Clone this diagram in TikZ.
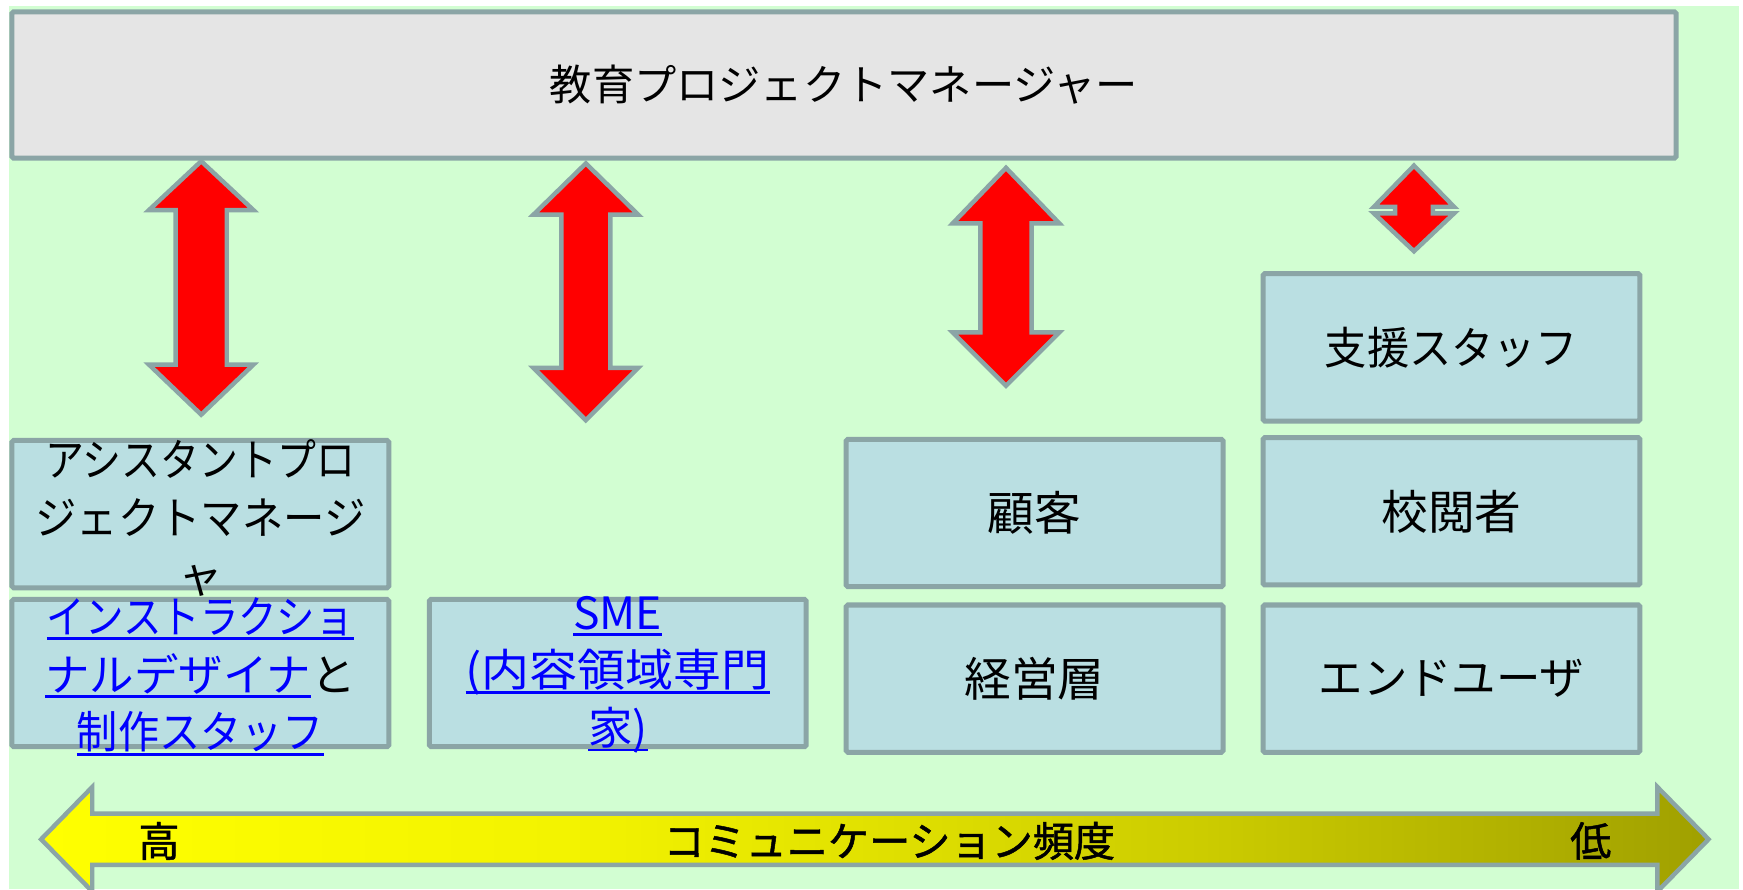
\documentclass[tikz,border=0pt]{standalone}
\usepackage{graphicx}
\usepackage{fontspec}
\newfontfamily\jp{Noto Sans CJK JP}
\definecolor{bgg}{HTML}{D2FED2}
\definecolor{bordc}{HTML}{8BA5A6}
\definecolor{boxfill}{HTML}{BADFE2}
\definecolor{topfill}{HTML}{E5E5E5}
\definecolor{lnkc}{HTML}{0000FF}
\definecolor{shA}{HTML}{FFFF00}
\definecolor{shB}{HTML}{F2F200}
\definecolor{shC}{HTML}{CCCC00}
\definecolor{shD}{HTML}{A0A000}
\pgfdeclarehorizontalshading{freqshade}{100bp}{color(0bp)=(shA); color(25bp)=(shA); color(41.8bp)=(shB); color(59.8bp)=(shC); color(75bp)=(shD); color(100bp)=(shD)}
\newcommand\mylnk[1]{\setbox0=\hbox{#1}\leavevmode\rlap{\raisebox{-6pt}{\rule{\wd0}{2.5pt}}}\box0}
\newcommand\myvarrow[7]{%
  \draw[blockarrow] (#1,#2) -- (#1+#6,#3) -- (#1+#7,#3) -- (#1+#7,#4) -- (#1+#6,#4) -- (#1,#5)
    -- (#1-#6,#4) -- (#1-#7,#4) -- (#1-#7,#3) -- (#1-#6,#3) -- cycle;}
\newcommand\hsq[2]{\scalebox{#1}[1]{#2}}
\tikzset{
  boxstyle/.style={draw=bordc, line width=4.5pt, fill=boxfill, rounded corners=1.5pt,
    minimum width=339pt, minimum height=132.5pt, inner sep=0pt,
    font=\jp\fontsize{40}{52}\selectfont},
  kanjibox/.style={boxstyle, font=\jp\fontsize{42}{52}\selectfont},
  topstyle/.style={boxstyle, fill=topfill, minimum width=1497pt, minimum height=131.6pt,
    font=\jp\fontsize{38}{46}\selectfont},
  lbl/.style={align=center, inner sep=0pt, font=\jp\fontsize{40}{52}\selectfont},
  freqlbl/.style={inner sep=0pt, font=\jp\fontsize{37}{44}\selectfont\addfontfeature{FakeBold=1.2}},
  blockarrow/.style={draw=bordc, line width=4pt, fill=red, line join=miter},
}
\begin{document}
\begin{tikzpicture}[x=1pt,y=-1pt]
\useasboundingbox (0,0) rectangle (1568,800);
\clip (0,0) rectangle (1568,800);
\fill[bgg] (8.5,5.4) rectangle (1564,800);

% top box
\node[topstyle] (pm) at (759.25,76.45) {教育プロジェクトマネージャー};

% double arrows
\myvarrow{181}{145}{189}{328}{373}{47}{23}
\myvarrow{527}{147}{193}{331}{378}{47}{22}
\myvarrow{905}{151}{201}{299}{347}{48}{23}
\myvarrow{1272}{149}{186}{192}{226}{36}{17}

% boxes
\node[boxstyle] (bA) at (180.25,462.5) {};
\node[boxstyle] (bB) at (180.25,605.5) {};
\node[boxstyle] (bC) at (555.75,605.5) {};
\node[kanjibox] (bD) at (930.75,461.5) {顧客};
\node[kanjibox] (bE) at (930.75,610.5) {経営層};
\node[boxstyle] (bF) at (1305.75,312.5) {\hsq{0.95}{支援スタッフ}};
\node[kanjibox] (bG) at (1305.75,460) {校閲者};
\node[boxstyle] (bH) at (1305.75,610.5) {エンドユーザ};

\node[lbl] (tA) at (180.25,466) {\hsq{0.875}{アシスタントプロ}\\\hsq{0.93}{ジェクトマネージ}\\ャ};
\node[lbl] (tB) at (180.25,608.5) {\hsq{0.865}{\textcolor{lnkc}{\mylnk{インストラクショ}}}\\\textcolor{lnkc}{\mylnk{ナルデザイナ}}と\\\hsq{0.925}{\textcolor{lnkc}{\mylnk{制作スタッフ}}}};
\node[lbl] (tC) at (555.75,607) {\textcolor{lnkc}{\mylnk{SME}}\\\hsq{1.08}{\textcolor{lnkc}{\mylnk{(内容領域専門}}}\\\textcolor{lnkc}{\mylnk{家)}}};

% frequency arrow
\path[draw=bordc, line width=4pt, shading=freqshade, line join=miter]
  (37,755) -- (83,708) -- (83,732) -- (1491,732) -- (1491,708) -- (1537,755)
  -- (1491,802) -- (1491,778) -- (83,778) -- (83,802) -- cycle;
\node[freqlbl] (hi) at (143,756.5) {高};
\node[freqlbl] (freq) at (800,756.5) {コミュニケーション頻度};
\node[freqlbl] (lo) at (1431,756.5) {低};
\end{tikzpicture}
\end{document}
